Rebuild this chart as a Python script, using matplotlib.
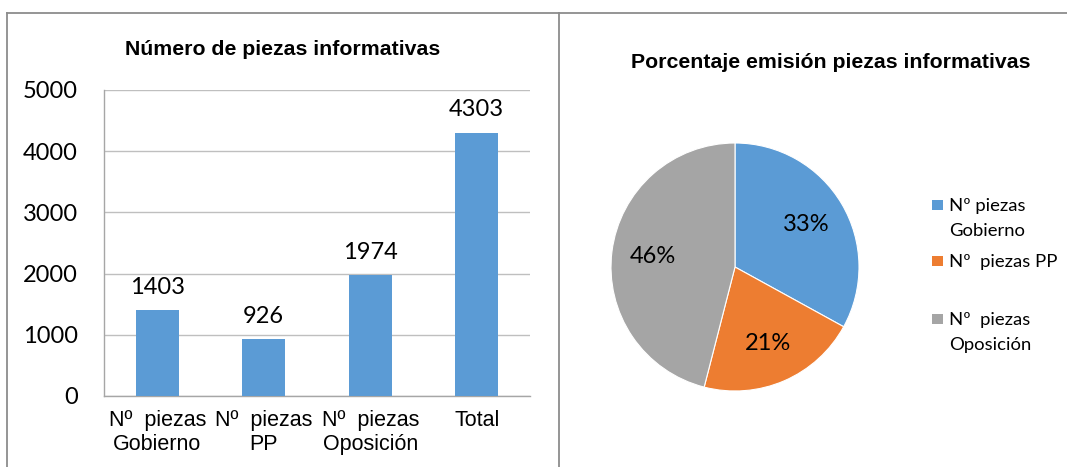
import matplotlib
matplotlib.use('Agg')
import matplotlib.pyplot as plt
from matplotlib.patches import Rectangle
from matplotlib.lines import Line2D

# ---- data ----
categories = ['Nº  piezas\nGobierno', 'Nº  piezas\nPP', 'Nº  piezas\nOposición', 'Total']
counts = [1403, 926, 1974, 4303]
yticks = [0, 1000, 2000, 3000, 4000, 5000]
pie_labels = ['Nº piezas\nGobierno', 'Nº  piezas PP', 'Nº  piezas\nOposición']
pie_pct = [33, 21, 46]
pie_colors = ['#5B9BD5', '#ED7D31', '#A5A5A5']
bar_color = '#5B9BD5'
title_left = 'Número de piezas informativas'
title_right = 'Porcentaje emisión piezas informativas'

W, H = 1067, 467
fig = plt.figure(figsize=(W / 100, H / 100), dpi=100)


def fx(px):
    return px / W


def fy(py):
    return 1 - py / H


# ---- panel borders ----
border = '#8C8C8C'
for (x0, y0, x1, y1) in [(7, 13, 559, 13), (7, 13, 7, 467), (559, 13, 559, 467), (559, 13, 1067, 13)]:
    fig.add_artist(Line2D([fx(x0), fx(x1)], [fy(y0), fy(y1)], transform=fig.transFigure,
                          color=border, lw=1.3))

# ---- bar chart ----
ax = fig.add_axes([fx(104), fy(396), fx(530) - fx(104), fy(90) - fy(396)])
xs = list(range(len(categories)))
ax.bar(xs, counts, width=0.4, color=bar_color, zorder=3)
ax.set_xlim(-0.5, len(categories) - 0.5)
ax.set_ylim(0, 5000)
ax.set_yticks(yticks)
ax.set_yticklabels([str(v) for v in yticks], fontfamily='Lato', fontsize=17)
ax.set_xticks(xs)
ax.set_xticklabels(categories, fontfamily='Liberation Sans', fontsize=15.5, linespacing=1.22)
ax.tick_params(axis='y', length=0, pad=19)
ax.tick_params(axis='x', length=0, pad=10)
ax.grid(axis='y', color='#BFBFBF', lw=1, zorder=0)
for s in ['top', 'right']:
    ax.spines[s].set_visible(False)
for s in ['left', 'bottom']:
    ax.spines[s].set_color('#A6A6A6')
    ax.spines[s].set_linewidth(1)
for xi, v in zip(xs, counts):
    ax.annotate(str(v), (xi, v), xytext=(0, 9), textcoords='offset points',
                ha='center', va='bottom', fontfamily='Lato', fontsize=17)

fig.text(fx(283), fy(55), title_left, ha='center', va='baseline',
         fontfamily='Liberation Sans', fontweight='bold', fontsize=15.3)

# ---- pie chart ----
pax = fig.add_axes([fx(611), fy(391), fx(859) - fx(611), fy(143) - fy(391)])
wedges, texts, autotexts = pax.pie(
    pie_pct, colors=pie_colors, startangle=90, counterclock=False,
    autopct=lambda p: f'{p:.0f}%', pctdistance=0.67,
    wedgeprops=dict(edgecolor='white', linewidth=0.8),
    textprops=dict(fontfamily='Lato', fontsize=17))
pax.set_xlim(-1, 1)
pax.set_ylim(-1, 1)
pax.set_aspect('equal')

fig.text(fx(831), fy(68), title_right, ha='center', va='baseline',
         fontfamily='Liberation Sans', fontweight='bold', fontsize=15.3)

# ---- legend (manual) ----
base_y = [211, 267, 325]
line_gap = 25
for lab, col, by in zip(pie_labels, pie_colors, base_y):
    fig.add_artist(Rectangle((fx(932), fy(by - 1)), 10.5 / W, 10.5 / H,
                             transform=fig.transFigure, facecolor=col, edgecolor='none'))
    for k, line in enumerate(lab.split('\n')):
        fig.text(fx(949), fy(by + k * line_gap), line, ha='left', va='baseline',
                 fontfamily='Lato', fontsize=13.3)

fig.savefig('out.png', dpi=100)
